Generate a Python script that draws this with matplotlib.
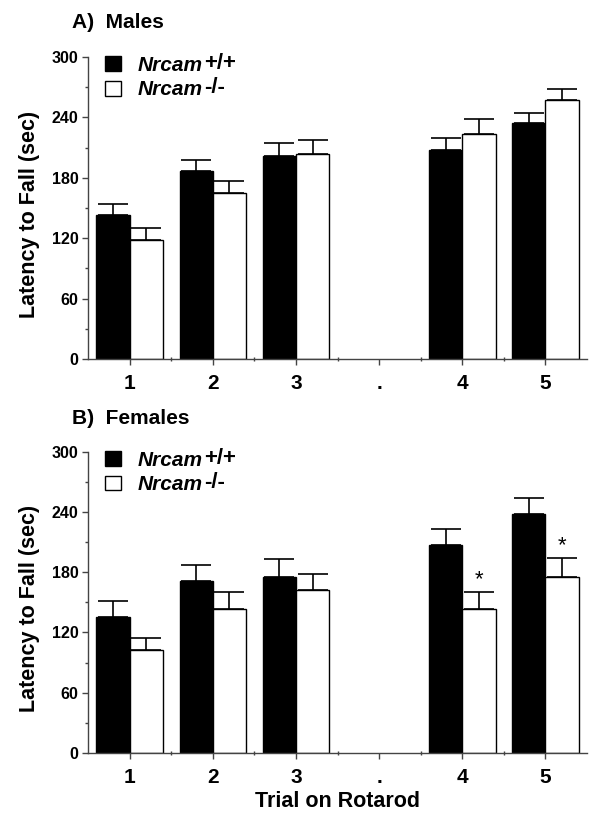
import numpy as np
import matplotlib
matplotlib.use('Agg')
import matplotlib.pyplot as plt
from matplotlib.patches import Patch
from matplotlib.ticker import MultipleLocator

plt.rcParams['font.family'] = ['Liberation Sans', 'DejaVu Sans']
plt.rcParams['font.weight'] = 'bold'
plt.rcParams['axes.labelweight'] = 'bold'

# data (latency to fall, sec); '.' slot is an empty gap
trial_labels = ['1', '2', '3', '.', '4', '5']
male_wt = [143, 187, 202, np.nan, 208, 235]
male_wt_err = [11, 11, 13, np.nan, 12, 9]
male_ko = [118, 165, 204, np.nan, 224, 257]
male_ko_err = [12, 12, 14, np.nan, 14, 11]
female_wt = [135, 171, 175, np.nan, 207, 238]
female_wt_err = [16, 16, 18, np.nan, 16, 16]
female_ko = [102, 143, 162, np.nan, 143, 175]
female_ko_err = [12, 17, 16, np.nan, 17, 19]
female_sig = [False, False, False, False, True, True]

fig = plt.figure(figsize=(6.05, 8.25), dpi=100)
ax1 = fig.add_axes([0.1455, 0.5648, 0.8248, 0.366])
ax2 = fig.add_axes([0.1455, 0.0876, 0.8248, 0.3645])

x = np.arange(len(trial_labels))
w = 0.4


def panel(ax, wt, wt_err, ko, ko_err, sig=None):
    ax.bar(x - w / 2, wt, w, color='black', edgecolor='black', linewidth=1)
    ax.bar(x + w / 2, ko, w, color='white', edgecolor='black', linewidth=1)
    z = np.zeros(len(x))
    ax.errorbar(x - w / 2, wt, yerr=[z, wt_err], fmt='none', ecolor='black',
                elinewidth=1.2, capsize=11, capthick=1.2)
    ax.errorbar(x + w / 2, ko, yerr=[z, ko_err], fmt='none', ecolor='black',
                elinewidth=1.2, capsize=11, capthick=1.2)
    if sig is not None:
        for i, s in enumerate(sig):
            if s:
                ax.annotate('*', (x[i] + w / 2, ko[i] + ko_err[i]), xytext=(0, 5),
                            textcoords='offset points', ha='center', va='baseline',
                            fontsize=16, fontweight='normal')
    ax.set_xlim(-0.5, 5.5)
    ax.set_ylim(0, 300)
    ax.yaxis.set_major_locator(MultipleLocator(60))
    ax.yaxis.set_minor_locator(MultipleLocator(30))
    ax.set_xticks(x)
    ax.set_xticklabels(trial_labels, fontsize=15)
    ax.set_xticks(x[:-1] + 0.5, minor=True)
    ax.tick_params(axis='y', labelsize=11.5, length=4, width=1, pad=3, color='#444')
    ax.tick_params(axis='y', which='minor', length=2, width=1, color='#444')
    ax.tick_params(axis='x', length=4, width=1, pad=7, color='#444')
    ax.tick_params(axis='x', which='minor', length=3, width=1, direction='inout', color='#444')
    for sp in ['top', 'right']:
        ax.spines[sp].set_visible(False)
    for sp in ['left', 'bottom']:
        ax.spines[sp].set_color('#444')
        ax.spines[sp].set_linewidth(1)
    ax.set_ylabel('Latency to Fall (sec)', fontsize=15.5)
    ax.yaxis.set_label_coords(-0.097, 0.48)
    handles = [Patch(facecolor='black', edgecolor='black'),
               Patch(facecolor='white', edgecolor='black')]
    leg = ax.legend(handles, ['Nrcam', 'Nrcam'], loc='upper left',
                    bbox_to_anchor=(0.034, 1.003), frameon=False,
                    prop={'size': 15, 'weight': 'bold', 'style': 'italic'},
                    handlelength=0.75, handleheight=0.72, handletextpad=0.8,
                    labelspacing=0.25, borderpad=0, borderaxespad=0)
    return leg


leg1 = panel(ax1, male_wt, male_wt_err, male_ko, male_ko_err)
leg2 = panel(ax2, female_wt, female_wt_err, female_ko, female_ko_err, female_sig)
ax2.set_xlabel('Trial on Rotarod', fontsize=15.5, labelpad=3)

fig.text(72 / 605, 1 - 23 / 825, 'A)  Males', fontsize=15, va='center')
fig.text(72 / 605, 1 - 418 / 825, 'B)  Females', fontsize=15, va='center')

# genotype suffixes next to the italic gene name
fig.canvas.draw()
r = fig.canvas.get_renderer()
inv = fig.transFigure.inverted()
for leg in [leg1, leg2]:
    for t, suf in zip(leg.get_texts(), ['+/+', '-/-']):
        bb = t.get_window_extent(r)
        px, py = inv.transform((bb.x1 + 2, bb.y0 + 1))
        fig.text(px, py, suf, fontsize=16, va='bottom', ha='left')

fig.savefig('out.png', dpi=100)
